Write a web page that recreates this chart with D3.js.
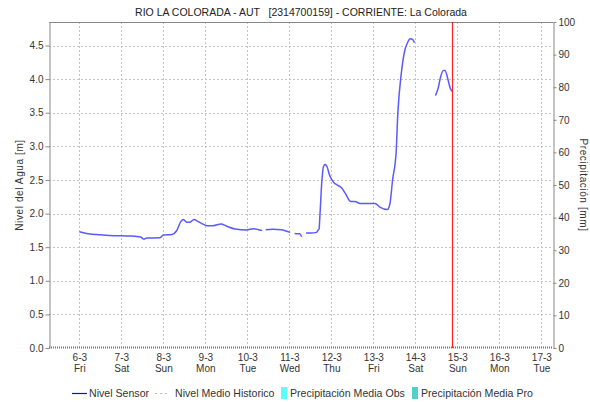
<!DOCTYPE html>
<html>
<head>
<meta charset="utf-8">
<script src="https://cdn.jsdelivr.net/npm/d3@7/dist/d3.min.js"></script>
<style>
  html, body { margin: 0; padding: 0; background: #fff; }
  svg { display: block; font-family: "Liberation Sans", Arial, sans-serif; }
</style>
</head>
<body>
<svg id="chart" width="590" height="402"></svg>
<script>
// Nivel del agua (m) — registro del sensor; null marca huecos sin datos
const times = [
  "2015-03-06 00:00","2015-03-06 05:00","2015-03-06 12:00","2015-03-06 17:00",
  "2015-03-07 06:00","2015-03-07 11:00","2015-03-07 13:00","2015-03-07 14:30","2015-03-07 22:00",
  "2015-03-08 00:00","2015-03-08 05:00","2015-03-08 07:30","2015-03-08 10:00","2015-03-08 11:30",
  "2015-03-08 13:30","2015-03-08 15:00","2015-03-08 17:30","2015-03-08 20:00","2015-03-08 23:00",
  "2015-03-09 01:00","2015-03-09 04:30","2015-03-09 09:00","2015-03-09 12:00","2015-03-09 17:00",
  "2015-03-09 23:30","2015-03-10 03:30","2015-03-10 07:00","2015-03-10 08:30",
  "2015-03-10 09:30",
  "2015-03-10 10:30","2015-03-10 14:30","2015-03-10 19:30","2015-03-10 22:00","2015-03-11 00:30",
  "2015-03-11 01:45",
  "2015-03-11 03:00","2015-03-11 05:00","2015-03-11 06:00","2015-03-11 07:00",
  "2015-03-11 08:15",
  "2015-03-11 09:30","2015-03-11 12:30","2015-03-11 15:30","2015-03-11 16:30","2015-03-11 17:00",
  "2015-03-11 17:30","2015-03-11 18:30","2015-03-11 19:30","2015-03-11 20:30","2015-03-11 21:30",
  "2015-03-11 23:00","2015-03-12 01:30","2015-03-12 03:00","2015-03-12 06:00","2015-03-12 08:00",
  "2015-03-12 11:00","2015-03-12 13:30","2015-03-12 16:30","2015-03-12 21:00","2015-03-13 01:00",
  "2015-03-13 03:30","2015-03-13 08:00","2015-03-13 09:30","2015-03-13 11:00","2015-03-13 13:00",
  "2015-03-13 14:00","2015-03-13 16:00","2015-03-13 18:00","2015-03-13 19:30","2015-03-13 21:00",
  "2015-03-13 22:30","2015-03-13 23:30",
  "2015-03-14 06:00",
  "2015-03-14 11:30","2015-03-14 13:00","2015-03-14 14:30","2015-03-14 16:00","2015-03-14 17:00",
  "2015-03-14 18:30","2015-03-14 20:00","2015-03-14 21:00"
];
const nivelSensor = [
  1.73, 1.70, 1.685, 1.675,
  1.665, 1.65, 1.62, 1.635, 1.64,
  1.68, 1.69, 1.74, 1.88, 1.91,
  1.87, 1.87, 1.91, 1.88, 1.84,
  1.82, 1.82, 1.845, 1.815, 1.77,
  1.756, 1.775, 1.756, 1.75,
  null,
  1.76, 1.765, 1.76, 1.74, 1.72,
  null,
  1.705, 1.70, 1.70, 1.655,
  null,
  1.71, 1.71, 1.72, 1.756, 1.77,
  1.98, 2.45, 2.70, 2.73, 2.70,
  2.57, 2.46, 2.43, 2.38, 2.30,
  2.18, 2.18, 2.15, 2.15, 2.15,
  2.10, 2.06, 2.15, 2.50, 2.90,
  3.49, 4.09, 4.43, 4.54, 4.60,
  4.59, 4.54,
  null,
  3.755, 3.86, 4.04, 4.13, 4.13,
  4.01, 3.86, 3.82
];

// Ejes y marcas
const xDomain = ["2015-03-05 06:40", "2015-03-17 06:40"];
const nowTime = "2015-03-14 21:00";
const levelTicks = [0, 0.5, 1.0, 1.5, 2.0, 2.5, 3.0, 3.5, 4.0, 4.5];
const precipTicks = [0, 10, 20, 30, 40, 50, 60, 70, 80, 90, 100];
const levelMax = 4.85;
const precipMax = 100;

const titleText = "RIO LA COLORADA - AUT   [2314700159] - CORRIENTE: La Colorada";
const legendItems = [
  { label: "Nivel Sensor", kind: "line" },
  { label: "Nivel Medio Historico", kind: "dash" },
  { label: "Precipitación Media Obs", kind: "box", color: "#5cffff" },
  { label: "Precipitación Media Pro", kind: "box", color: "#4fd0c8" }
];

const parse = d3.timeParse("%Y-%m-%d %H:%M");
const series = times.map((t, i) => ({ t: parse(t), v: nivelSensor[i] }));

const svg = d3.select("#chart");
const L = 49, R = 553, T = 22, B = 348;

const x = d3.scaleTime().domain(xDomain.map(parse)).range([L, R]);
const y = d3.scaleLinear().domain([0, levelMax]).range([B, T]);
const y2 = d3.scaleLinear().domain([0, precipMax]).range([B, T]);

const days = d3.timeDay.range(parse("2015-03-06 00:00"), parse("2015-03-17 12:00"));

// Cuadrícula punteada
const grid = svg.append("g").attr("stroke", "#c4c4c4").attr("stroke-width", 1)
  .attr("stroke-dasharray", "2,2");
grid.selectAll("line.v").data(days).join("line")
  .attr("x1", d => Math.round(x(d)) + 0.5).attr("x2", d => Math.round(x(d)) + 0.5)
  .attr("y1", T).attr("y2", B);
grid.selectAll("line.h").data(levelTicks.filter(d => d > 0)).join("line")
  .attr("x1", L).attr("x2", R)
  .attr("y1", d => Math.round(y(d)) + 0.5).attr("y2", d => Math.round(y(d)) + 0.5);

// Línea base en cero (nivel medio histórico)
svg.append("line")
  .attr("x1", L).attr("x2", R).attr("y1", B - 0.5).attr("y2", B - 0.5)
  .attr("stroke", "#777").attr("stroke-width", 2).attr("stroke-dasharray", "1,1");

// Marco del área de trazado
svg.append("line").attr("x1", L).attr("x2", R).attr("y1", T + 0.5).attr("y2", T + 0.5)
  .attr("stroke", "#888");

// Eje izquierdo
const yAxis = svg.append("g").attr("transform", `translate(${L + 0.5},0)`)
  .call(d3.axisLeft(y).tickValues(levelTicks).tickFormat(d3.format(".1f")).tickSize(4).tickSizeOuter(0));
// Eje derecho
const y2Axis = svg.append("g").attr("transform", `translate(${R + 0.5},0)`)
  .call(d3.axisRight(y2).tickValues(precipTicks).tickFormat(d3.format("d")).tickSize(3).tickSizeOuter(0));
[yAxis, y2Axis].forEach(g => {
  g.select(".domain").attr("stroke", "#888");
  g.selectAll(".tick line").attr("stroke", "#888");
  g.selectAll("text").attr("fill", "#333").attr("font-size", 10)
    .attr("font-family", "'Liberation Sans', Arial, sans-serif");
});
yAxis.selectAll("text").attr("x", -6);
y2Axis.selectAll("text").attr("x", 5);

// Eje de tiempo con dos renglones: fecha y día
const xAxis = svg.append("g").attr("transform", `translate(0,${B})`)
  .call(d3.axisBottom(x).tickValues(days).tickSize(0).tickFormat(""));
xAxis.select(".domain").remove();
const fmtDate = d3.timeFormat("%-d-%-m");
const fmtDay = d3.timeFormat("%a");
xAxis.selectAll(".tick").each(function (d) {
  const g = d3.select(this);
  g.append("text").attr("y", 13).attr("text-anchor", "middle").attr("fill", "#333")
    .attr("font-size", 10).text(fmtDate(d));
  g.append("text").attr("y", 24).attr("text-anchor", "middle").attr("fill", "#333")
    .attr("font-size", 10).text(fmtDay(d));
});

// Serie de nivel
const line = d3.line()
  .defined(d => d.v !== null)
  .x(d => x(d.t)).y(d => y(d.v))
  .curve(d3.curveMonotoneX);
svg.append("path").datum(series)
  .attr("fill", "none").attr("stroke", "#5a5aff").attr("stroke-width", 1.5)
  .attr("stroke-linejoin", "round").attr("d", line);

// Marca del instante actual
const xn = Math.round(x(parse(nowTime))) + 0.5;
svg.append("line").attr("x1", xn).attr("x2", xn).attr("y1", T).attr("y2", B)
  .attr("stroke", "#ff2020").attr("stroke-width", 1.2);

// Título
svg.append("text").attr("x", (L + R) / 2).attr("y", 16).attr("text-anchor", "middle")
  .attr("font-size", 10.5).attr("fill", "#222").style("white-space", "pre")
  .text(titleText);

// Títulos de ejes
svg.append("text").attr("transform", `translate(23,${(T + B) / 2}) rotate(-90)`)
  .attr("text-anchor", "middle").attr("font-size", 10).attr("fill", "#333")
  .attr("letter-spacing", 0.6).text("Nivel del Agua [m]");
svg.append("text").attr("transform", `translate(580,${(T + B) / 2}) rotate(90)`)
  .attr("text-anchor", "middle").attr("font-size", 10).attr("fill", "#333")
  .attr("letter-spacing", 0.6).text("Precipitación [mm]");

// Leyenda
const legend = svg.append("g").attr("font-size", 10.6).attr("fill", "#333");
const lx = [72, 155, 281, 412];
const ly = 393;
legendItems.forEach((it, i) => {
  const g = legend.append("g").attr("transform", `translate(${lx[i]},${ly})`);
  let tx;
  if (it.kind === "line") {
    g.append("line").attr("x1", 0).attr("x2", 15).attr("y1", 0.5).attr("y2", 0.5)
      .attr("stroke", "#1010d0").attr("stroke-width", 1.2);
    tx = 17;
  } else if (it.kind === "dash") {
    g.append("line").attr("x1", 0).attr("x2", 15).attr("y1", 0.5).attr("y2", 0.5)
      .attr("stroke", "#bbb").attr("stroke-width", 1).attr("stroke-dasharray", "2,3");
    tx = 20;
  } else {
    g.append("rect").attr("x", 0).attr("y", -6).attr("width", 6).attr("height", 12)
      .attr("fill", it.color);
    tx = 9;
  }
  g.append("text").attr("x", tx).attr("y", 4).text(it.label);
});
</script>
</body>
</html>
